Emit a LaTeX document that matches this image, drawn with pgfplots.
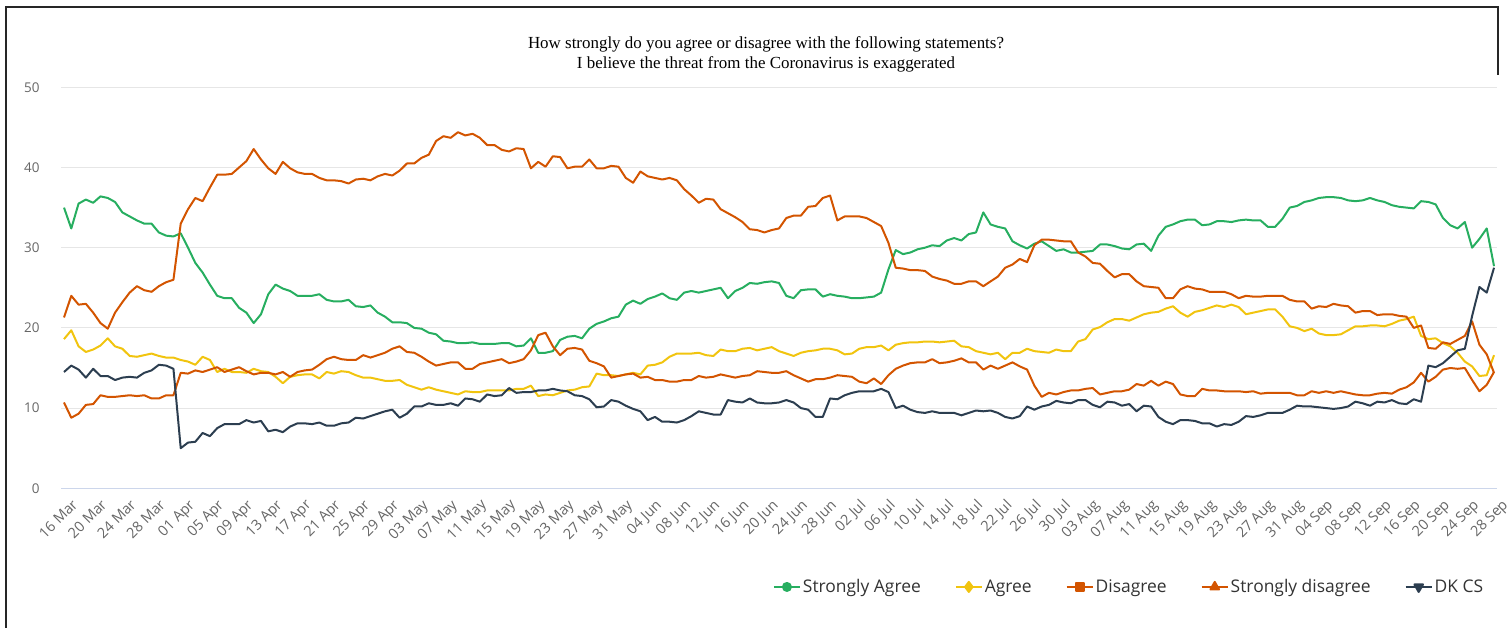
\documentclass[border=0pt]{standalone}
\usepackage{pgfplots}
\usepackage{pgfplotstable}
\pgfplotsset{compat=1.18}
\usepackage{fontspec}
\setmainfont{Open Sans}
\newfontfamily\titlefont{Liberation Serif}
\newfontfamily\labfont{Open Sans}
\definecolor{cSA}{HTML}{27AE60}
\definecolor{cA}{HTML}{F1C40F}
\definecolor{cD}{HTML}{D35400}
\definecolor{cSD}{HTML}{D35400}
\definecolor{cDK}{HTML}{2C3E50}
\definecolor{gridc}{HTML}{E6E6E6}
\definecolor{basec}{HTML}{CCD6EB}
\definecolor{labc}{HTML}{666666}
\definecolor{legc}{HTML}{333333}
\pgfplotstableread{
day sa a d sd dk
0 35.0 18.6 10.7 21.3 14.5
1 32.4 19.7 8.8 24.0 15.3
2 35.5 17.7 9.3 22.9 14.8
3 36.0 17.0 10.4 23.0 13.8
4 35.6 17.3 10.5 21.9 14.9
5 36.4 17.8 11.6 20.6 14.0
6 36.2 18.7 11.4 19.9 14.0
7 35.7 17.7 11.4 21.9 13.5
8 34.4 17.4 11.5 23.2 13.8
9 33.9 16.5 11.6 24.4 13.9
10 33.4 16.4 11.5 25.2 13.8
11 33.0 16.6 11.6 24.7 14.4
12 33.0 16.8 11.2 24.5 14.7
13 31.9 16.5 11.2 25.2 15.4
14 31.5 16.3 11.6 25.7 15.3
15 31.4 16.3 11.6 26.0 14.9
16 31.8 16.0 14.4 33.0 5.0
17 30.0 15.8 14.3 34.8 5.7
18 28.1 15.4 14.7 36.2 5.8
19 26.9 16.4 14.5 35.8 6.9
20 25.4 16.0 14.8 37.5 6.5
21 24.0 14.5 15.1 39.1 7.5
22 23.7 14.9 14.5 39.1 8.0
23 23.7 14.5 14.8 39.2 8.0
24 22.5 14.5 15.1 40.0 8.0
25 21.9 14.4 14.6 40.8 8.5
26 20.6 14.9 14.2 42.3 8.2
27 21.7 14.6 14.4 41.0 8.4
28 24.2 14.5 14.4 39.9 7.1
29 25.4 13.9 14.2 39.2 7.3
30 24.9 13.1 14.5 40.7 7.0
31 24.6 13.9 13.9 39.9 7.7
32 24.0 14.1 14.5 39.4 8.1
33 24.0 14.2 14.7 39.2 8.1
34 24.0 14.2 14.8 39.2 8.0
35 24.2 13.7 15.4 38.7 8.2
36 23.5 14.5 16.1 38.4 7.8
37 23.3 14.3 16.4 38.4 7.8
38 23.3 14.6 16.1 38.3 8.1
39 23.5 14.5 16.0 38.0 8.2
40 22.7 14.1 16.0 38.5 8.8
41 22.6 13.8 16.6 38.6 8.7
42 22.8 13.8 16.3 38.4 9.0
43 21.9 13.6 16.6 38.9 9.3
44 21.4 13.4 16.9 39.2 9.6
45 20.7 13.4 17.4 39.0 9.8
46 20.7 13.5 17.7 39.6 8.8
47 20.6 12.9 17.0 40.5 9.3
48 20.0 12.6 16.9 40.5 10.2
49 19.9 12.3 16.4 41.2 10.2
50 19.4 12.6 15.8 41.6 10.6
51 19.2 12.3 15.3 43.3 10.4
52 18.4 12.1 15.5 43.9 10.4
53 18.3 11.9 15.7 43.7 10.6
54 18.1 11.7 15.7 44.4 10.3
55 18.1 12.1 14.9 44.0 11.2
56 18.2 12.0 14.9 44.2 11.1
57 18.0 12.0 15.5 43.7 10.8
58 18.0 12.2 15.7 42.8 11.7
59 18.0 12.2 15.9 42.8 11.5
60 18.1 12.2 16.1 42.2 11.6
61 18.1 12.2 15.6 42.0 12.5
62 17.7 12.4 15.8 42.4 11.9
63 17.8 12.4 16.1 42.3 12.0
64 18.7 12.8 17.2 39.9 12.0
65 16.9 11.5 19.1 40.7 12.2
66 16.9 11.7 19.4 40.1 12.2
67 17.1 11.6 17.7 41.4 12.4
68 18.5 11.9 16.6 41.3 12.2
69 18.9 12.2 17.4 39.9 12.1
70 19.0 12.3 17.5 40.1 11.6
71 18.7 12.6 17.3 40.1 11.5
72 19.9 12.7 15.9 41.0 11.1
73 20.5 14.3 15.6 39.9 10.1
74 20.8 14.1 15.2 39.9 10.2
75 21.2 14.1 13.8 40.2 11.0
76 21.4 14.0 14.0 40.1 10.8
77 22.9 14.2 14.2 38.7 10.3
78 23.4 14.4 14.3 38.1 9.9
79 23.0 14.2 13.8 39.5 9.6
80 23.6 15.3 13.9 38.9 8.5
81 23.9 15.4 13.5 38.7 8.9
82 24.3 15.7 13.5 38.5 8.3
83 23.7 16.4 13.3 38.7 8.3
84 23.5 16.8 13.3 38.4 8.2
85 24.4 16.8 13.5 37.3 8.5
86 24.6 16.8 13.5 36.5 9.0
87 24.4 16.9 14.0 35.6 9.6
88 24.6 16.6 13.8 36.1 9.4
89 24.8 16.5 13.9 36.0 9.2
90 25.0 17.3 14.2 34.8 9.2
91 23.7 17.1 14.0 34.3 11.0
92 24.6 17.1 13.8 33.8 10.8
93 25.0 17.4 14.0 33.2 10.7
94 25.6 17.5 14.1 32.3 11.2
95 25.5 17.2 14.6 32.2 10.7
96 25.7 17.4 14.5 31.9 10.6
97 25.8 17.6 14.4 32.2 10.6
98 25.6 17.1 14.4 32.4 10.7
99 24.0 16.8 14.6 33.7 11.0
100 23.7 16.5 14.1 34.0 10.7
101 24.7 16.9 13.7 34.0 10.0
102 24.8 17.1 13.3 35.1 9.8
103 24.8 17.2 13.6 35.2 8.9
104 23.9 17.4 13.6 36.2 8.9
105 24.2 17.4 13.8 36.5 11.2
106 24.0 17.2 14.1 33.4 11.1
107 23.9 16.7 14.0 33.9 11.6
108 23.7 16.8 13.9 33.9 11.9
109 23.7 17.4 13.3 33.9 12.1
110 23.8 17.6 13.1 33.7 12.1
111 23.9 17.6 13.7 33.2 12.1
112 24.4 17.8 13.0 32.7 12.4
113 27.3 17.2 14.1 30.6 12.0
114 29.7 17.9 14.9 27.5 10.0
115 29.2 18.1 15.3 27.4 10.3
116 29.4 18.2 15.6 27.2 9.8
117 29.8 18.2 15.7 27.2 9.5
118 30.0 18.3 15.7 27.1 9.4
119 30.3 18.3 16.1 26.4 9.6
120 30.2 18.2 15.6 26.1 9.4
121 30.9 18.3 15.7 25.9 9.4
122 31.2 18.4 15.9 25.5 9.4
123 30.9 17.7 16.2 25.5 9.1
124 31.7 17.6 15.7 25.8 9.4
125 31.9 17.1 15.7 25.8 9.7
126 34.4 16.9 14.8 25.2 9.6
127 32.9 16.7 15.3 25.8 9.7
128 32.6 16.9 14.9 26.4 9.4
129 32.4 16.1 15.3 27.5 8.9
130 30.8 16.9 15.7 27.9 8.7
131 30.3 16.9 15.2 28.6 9.0
132 29.9 17.4 14.8 28.2 10.2
133 30.5 17.1 12.8 30.3 9.8
134 30.8 17.0 11.4 31.0 10.2
135 30.2 16.9 11.9 31.0 10.4
136 29.6 17.3 11.7 30.9 10.9
137 29.8 17.1 12.0 30.8 10.7
138 29.4 17.1 12.2 30.8 10.6
139 29.4 18.3 12.2 29.4 11.0
140 29.5 18.6 12.4 28.9 11.0
141 29.6 19.8 12.5 28.1 10.4
142 30.4 20.1 11.7 28.0 10.1
143 30.4 20.7 11.9 27.1 10.8
144 30.2 21.1 12.1 26.3 10.7
145 29.9 21.1 12.1 26.7 10.3
146 29.8 20.9 12.3 26.7 10.5
147 30.4 21.3 13.0 25.8 9.6
148 30.5 21.7 12.8 25.2 10.3
149 29.6 21.9 13.4 25.1 10.2
150 31.5 22.0 12.8 25.0 8.9
151 32.6 22.4 13.3 23.7 8.3
152 32.9 22.7 13.0 23.7 8.0
153 33.3 21.9 11.7 24.8 8.5
154 33.5 21.4 11.5 25.2 8.5
155 33.5 22.0 11.5 24.9 8.4
156 32.8 22.2 12.4 24.8 8.1
157 32.9 22.5 12.2 24.5 8.1
158 33.3 22.8 12.2 24.5 7.7
159 33.3 22.6 12.1 24.5 8.0
160 33.2 22.9 12.1 24.2 7.9
161 33.4 22.6 12.1 23.7 8.3
162 33.5 21.7 12.0 24.0 9.0
163 33.4 21.9 12.1 23.9 8.9
164 33.4 22.1 11.8 23.9 9.1
165 32.6 22.3 11.9 24.0 9.4
166 32.6 22.3 11.9 24.0 9.4
167 33.6 21.4 11.9 24.0 9.4
168 35.0 20.2 11.9 23.5 9.8
169 35.2 20.0 11.6 23.3 10.3
170 35.7 19.6 11.6 23.3 10.2
171 35.9 19.9 12.1 22.4 10.2
172 36.2 19.3 11.9 22.7 10.1
173 36.3 19.1 12.1 22.6 10.0
174 36.3 19.1 11.9 23.0 9.9
175 36.2 19.2 12.1 22.8 10.0
176 35.9 19.7 11.9 22.7 10.2
177 35.8 20.2 11.7 21.9 10.8
178 35.9 20.2 11.6 22.1 10.6
179 36.2 20.3 11.6 22.1 10.3
180 35.9 20.3 11.8 21.6 10.8
181 35.7 20.2 11.9 21.7 10.7
182 35.3 20.5 11.8 21.7 11.0
183 35.1 20.9 12.3 21.5 10.6
184 35.0 21.1 12.6 21.4 10.5
185 34.9 21.4 13.2 20.0 11.1
186 35.8 19.0 14.4 20.3 10.8
187 35.7 18.6 13.3 17.5 15.3
188 35.4 18.7 13.9 17.4 15.1
189 33.7 18.1 14.8 18.2 15.6
190 32.8 17.7 15.0 18.0 16.4
191 32.4 16.9 14.9 18.5 17.2
192 33.2 15.8 15.0 19.0 17.4
193 30.0 15.2 13.5 20.8 21.5
194 31.1 14.0 12.1 17.9 25.1
195 32.4 14.1 12.9 16.7 24.4
196 27.7 16.6 14.5 14.4 27.5
}\data
\begin{document}
\begin{tikzpicture}[x=1bp,y=1bp]
\useasboundingbox (0,0) rectangle (1512,628);
\draw[line width=1.5bp, black!85] (6,0) -- (6,621) -- (1498,621) -- (1498,553);
\node[font=\titlefont\fontsize{17}{20}\selectfont, align=center, text=black] at (766,574)
  {How strongly do you agree or disagree with the following statements?\\I believe the threat from the Coronavirus is exaggerated};
\begin{axis}[
  at={(61bp,139.7bp)}, anchor=south west,
  scale only axis, width=1436bp, height=401bp,
  xmin=-0.41, xmax=196.41, ymin=0, ymax=50,
  separate axis lines,
  axis x line*=bottom, axis y line*=left,
  y axis line style={draw=none},
  x axis line style={draw=basec, line width=1bp},
  major tick length=0pt,
  ytick={0,10,...,50},
  ymajorgrids, grid style={color=gridc, line width=1bp},
  xtick={0,4,...,196},
  xticklabels={16 Mar,20 Mar,24 Mar,28 Mar,01 Apr,05 Apr,09 Apr,13 Apr,17 Apr,21 Apr,25 Apr,29 Apr,03 May,07 May,11 May,15 May,19 May,23 May,27 May,31 May,04 Jun,08 Jun,12 Jun,16 Jun,20 Jun,24 Jun,28 Jun,02 Jul,06 Jul,10 Jul,14 Jul,18 Jul,22 Jul,26 Jul,30 Jul,03 Aug,07 Aug,11 Aug,15 Aug,19 Aug,23 Aug,27 Aug,31 Aug,04 Sep,08 Sep,12 Sep,16 Sep,20 Sep,24 Sep,28 Sep},
  /pgf/number format/assume math mode=true,
  yticklabel style={font=\labfont\fontsize{13.5}{15}\selectfont, text=labc, anchor=east, xshift=-18bp},
  xticklabel style={font=\labfont\fontsize{14.5}{16}\selectfont, text=labc, rotate=45, anchor=north east, inner sep=1bp, yshift=-11bp, xshift=-1bp},
  legend columns=5,
  legend style={at={(axis description cs:0.994,-0.246)}, anchor=east, draw=none, fill=none,
    font=\labfont\fontsize{17.5}{20}\selectfont, text=legc,
    /tikz/every even column/.append style={column sep=32bp}},
  legend cell align=left,
  legend image code/.code={\draw[mark repeat=2,mark phase=2] plot coordinates {(0bp,0bp) (13bp,0bp) (26bp,0bp)};},
  every axis plot/.append style={line width=2bp, line join=round},
]
\addlegendimage{cSA, line width=2bp, mark=*, mark size=4bp}
\addlegendentry{Strongly Agree}
\addlegendimage{cA, line width=2bp, mark=diamond*, mark size=5bp}
\addlegendentry{Agree}
\addlegendimage{cD, line width=2bp, mark=square*, mark size=4bp}
\addlegendentry{Disagree}
\addlegendimage{cSD, line width=2bp, mark=triangle*, mark size=5bp}
\addlegendentry{Strongly disagree}
\addlegendimage{cDK, line width=2bp, mark=triangle*, mark options={rotate=180}, mark size=5bp}
\addlegendentry{DK CS}
\addplot[cSA, forget plot] table[x=day, y=sa] {\data};
\addplot[cA, forget plot] table[x=day, y=a] {\data};
\addplot[cD, forget plot] table[x=day, y=d] {\data};
\addplot[cSD, forget plot] table[x=day, y=sd] {\data};
\addplot[cDK, forget plot] table[x=day, y=dk] {\data};
\end{axis}
\end{tikzpicture}
\end{document}
